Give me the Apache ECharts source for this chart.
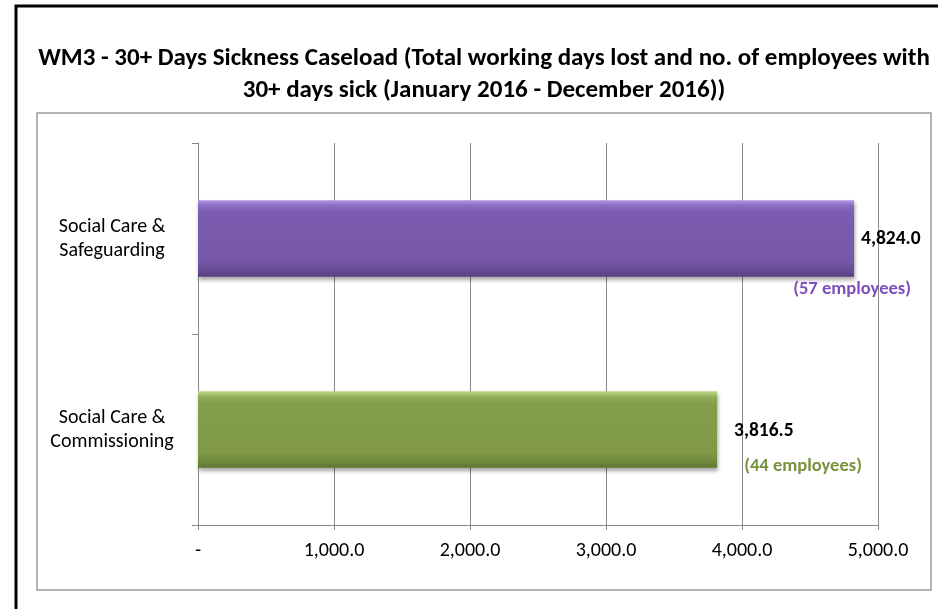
<!DOCTYPE html>
<html>
<head>
<meta charset="utf-8">
<script src="https://cdn.jsdelivr.net/npm/echarts@6/dist/echarts.min.js"></script>
<style>
html,body{margin:0;padding:0;background:#fff;}
#chart{width:938px;height:609px;}
</style>
</head>
<body>
<div id="chart"></div>
<script>
// Data
const categories = ['Social Care &\nSafeguarding', 'Social Care &\nCommissioning'];
const daysLost = [4824.0, 3816.5];
const employees = [57, 44];
const xTicks = [0, 1000, 2000, 3000, 4000, 5000];
const titleText = 'WM3 - 30+ Days Sickness Caseload (Total working days lost and no. of employees with\n30+ days sick (January 2016 - December 2016))';

// Styles (kept separate from data)
const FONT = 'Carlito, Lato, sans-serif';
const barStyles = [
  {
    grad: [['#b197e2', 0], ['#8b6cc2', 0.07], ['#7c5cb0', 0.16], ['#7757a8', 0.8], ['#654a94', 0.93], ['#56407f', 1]],
    empColor: '#7f4fbe',
    valOffset: [7, 0.5],
    empOffset: [-2, 51]
  },
  {
    grad: [['#bcd98a', 0], ['#93b058', 0.07], ['#849f4b', 0.16], ['#7f9947', 0.8], ['#6d863b', 0.93], ['#5f7632', 1]],
    empColor: '#77933c',
    valOffset: [17, 1.5],
    empOffset: [86, 36.5]
  }
];

function fmt(v) {
  if (v === 0) return '-';
  return v.toLocaleString('en-US', {minimumFractionDigits: 1, maximumFractionDigits: 1});
}

function gradient(stops) {
  return new echarts.graphic.LinearGradient(0, 0, 0, 1, stops.map(s => ({offset: s[1], color: s[0]})));
}

const chart = echarts.init(document.getElementById('chart'), null, {renderer: 'canvas'});

const valueData = daysLost.map((v, i) => ({
  value: v,
  itemStyle: {
    color: gradient(barStyles[i].grad),
    shadowColor: 'rgba(0,0,0,0.35)',
    shadowBlur: 4,
    shadowOffsetY: 3,
    shadowOffsetX: 1
  },
  label: {
    show: true,
    position: ['100%', '50%'],
    align: 'left',
    verticalAlign: 'middle',
    offset: barStyles[i].valOffset,
    formatter: () => fmt(daysLost[i]),
    fontFamily: FONT,
    fontWeight: 'bold',
    fontSize: 19.5,
    color: '#000'
  }
}));

const empData = daysLost.map((v, i) => ({
  value: v,
  itemStyle: {color: 'rgba(0,0,0,0)'},
  label: {
    show: true,
    position: ['100%', '50%'],
    align: 'center',
    verticalAlign: 'middle',
    offset: barStyles[i].empOffset,
    formatter: () => '(' + employees[i] + ' employees)',
    fontFamily: FONT,
    fontWeight: 'bold',
    fontSize: 18.5,
    color: barStyles[i].empColor
  }
}));

const option = {
  animation: false,
  backgroundColor: '#fff',
  title: {
    text: titleText,
    left: 479,
    top: 38,
    textAlign: 'center',
    textStyle: {
      fontFamily: FONT,
      fontWeight: 'bold',
      fontSize: 25,
      lineHeight: 32,
      color: '#000'
    }
  },
  graphic: [
    {type: 'rect', shape: {x: 16, y: 6, width: 960, height: 640}, style: {fill: 'none', stroke: '#000', lineWidth: 3}, silent: true},
    {type: 'rect', shape: {x: 37, y: 113, width: 894, height: 477}, style: {fill: 'none', stroke: '#9a9a9a', lineWidth: 1.5}, silent: true}
  ],
  grid: {left: 198, right: 60, top: 143, bottom: 84, containLabel: false},
  xAxis: {
    type: 'value',
    min: 0,
    max: 5000,
    interval: 1000,
    axisLine: {show: true, lineStyle: {color: '#888', width: 1}},
    axisTick: {show: true, length: 5, lineStyle: {color: '#888'}},
    splitLine: {show: true, lineStyle: {color: '#888', width: 1}},
    axisLabel: {
      formatter: v => fmt(v),
      fontFamily: FONT,
      fontSize: 20,
      color: '#000',
      margin: 16
    }
  },
  yAxis: {
    type: 'category',
    inverse: true,
    data: categories,
    axisLine: {show: true, lineStyle: {color: '#888', width: 1}},
    axisTick: {show: true, length: 6, lineStyle: {color: '#888'}},
    splitLine: {show: false},
    axisLabel: {
      fontFamily: FONT,
      fontSize: 20,
      lineHeight: 24,
      color: '#000',
      align: 'center',
      margin: 86
    }
  },
  series: [
    {
      type: 'bar',
      data: valueData,
      barWidth: '40%',
      barGap: '-100%',
      z: 3
    },
    {
      type: 'bar',
      data: empData,
      barWidth: '40%',
      barGap: '-100%',
      z: 4,
      silent: true
    }
  ]
};

chart.setOption(option);
</script>
</body>
</html>
